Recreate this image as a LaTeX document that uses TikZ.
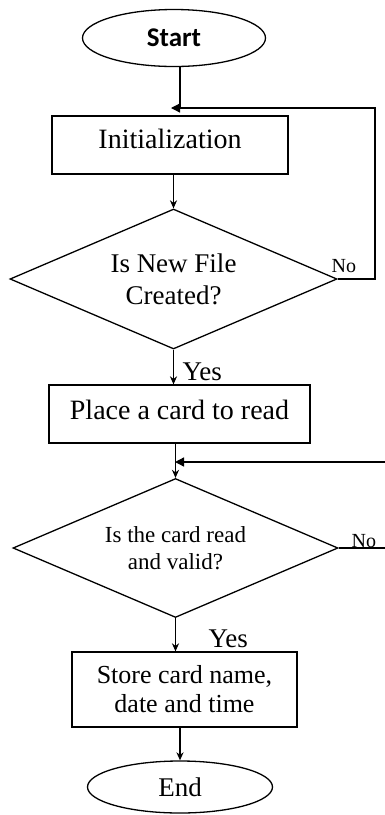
\documentclass[tikz,border=0pt]{standalone}
\usepackage{fontspec}
\setmainfont{Liberation Serif}
\newfontfamily\termfont{Carlito}
\usetikzlibrary{shapes.geometric, arrows.meta, positioning}

\begin{document}
\begin{tikzpicture}[
      x=1pt, y=-1pt,
      every path/.style={line width=1.3pt},
      every node/.style={font=\fontsize{28}{32}\selectfont, inner sep=0pt},
      flow/.style={-{Stealth[length=8pt, width=7pt, inset=2.5pt]}},
      back/.style={-{Triangle[length=9pt, width=9pt]}},
      box/.style={draw, rectangle, align=center},
      decision/.style={draw, diamond, shape aspect=2.33, align=center},
      terminal/.style={draw, ellipse}
    ]
    \useasboundingbox (0,0) rectangle (385,815);

    \tikzstyle{answer} = [font=\fontsize{20}{22}\selectfont, anchor=base west]

    % steps, top to bottom
    \node[terminal, minimum width=183pt, minimum height=57pt,
          font=\termfont\bfseries\fontsize{27}{32}\selectfont] (start) at (174,38) {Start};
    \node[box, minimum width=236pt, minimum height=58pt, text depth=12pt] (init) at (170,145) {Initialization};
    \node[decision, minimum width=327pt, minimum height=140pt,
          font=\fontsize{27}{32}\selectfont] (isnew) at (173.5,279) {Is New File\\Created?};
    \node[box, minimum width=261pt, minimum height=58pt, text depth=9pt] (place) at (179.5,414) {Place a card to read};
    \node[decision, minimum width=325pt, minimum height=139pt,
          font=\fontsize{23}{27}\selectfont] (isvalid) at (175.5,548) {Is the card read\\and valid?};
    \node[box, minimum width=225pt, minimum height=75pt,
          font=\fontsize{26}{29}\selectfont] (store) at (184.5,689.5) {Store card name,\\date and time};
    \node[terminal, minimum width=185pt, minimum height=52pt,
          font=\fontsize{27}{32}\selectfont] (end) at (180,787) {End};

    % branch labels
    \node[answer] (no1) at (331,272) {No};
    \node[answer] (no2) at (351,547) {No};
    \node[anchor=base west, font=\fontsize{27}{32}\selectfont] (yes1) at (182,380) {Yes};
    \node[anchor=base west, font=\fontsize{27}{32}\selectfont] (yes2) at (208,647) {Yes};

    % loop joints and the ends that leave the page
    \coordinate (fb1) at (180,108);
    \coordinate (loopright) at (375,279);
    \coordinate (fb2) at (177,462);
    \coordinate (exitA) at (385,548);
    \coordinate (exitB) at (385,462);

    \draw (fb1 |- start.south) -- (fb1);
    \draw[back] (isnew.east) -- (loopright) |- ([xshift=-9pt]fb1);
    \draw[flow] (isnew.north |- init.south) -- (isnew.north);
    \draw[flow] (isnew.south) -- (isnew.south |- place.north);

    \draw[flow] (isvalid.north |- place.south) -- (isvalid.north);
    \draw[back] (exitB) -- ([xshift=-2pt]fb2);
    \draw (isvalid.east) -- (exitA);
    \draw[flow] (isvalid.south) -- (isvalid.south |- store.north);
    \draw[flow] (end.north |- store.south) -- (end.north);

\end{tikzpicture}
\end{document}
